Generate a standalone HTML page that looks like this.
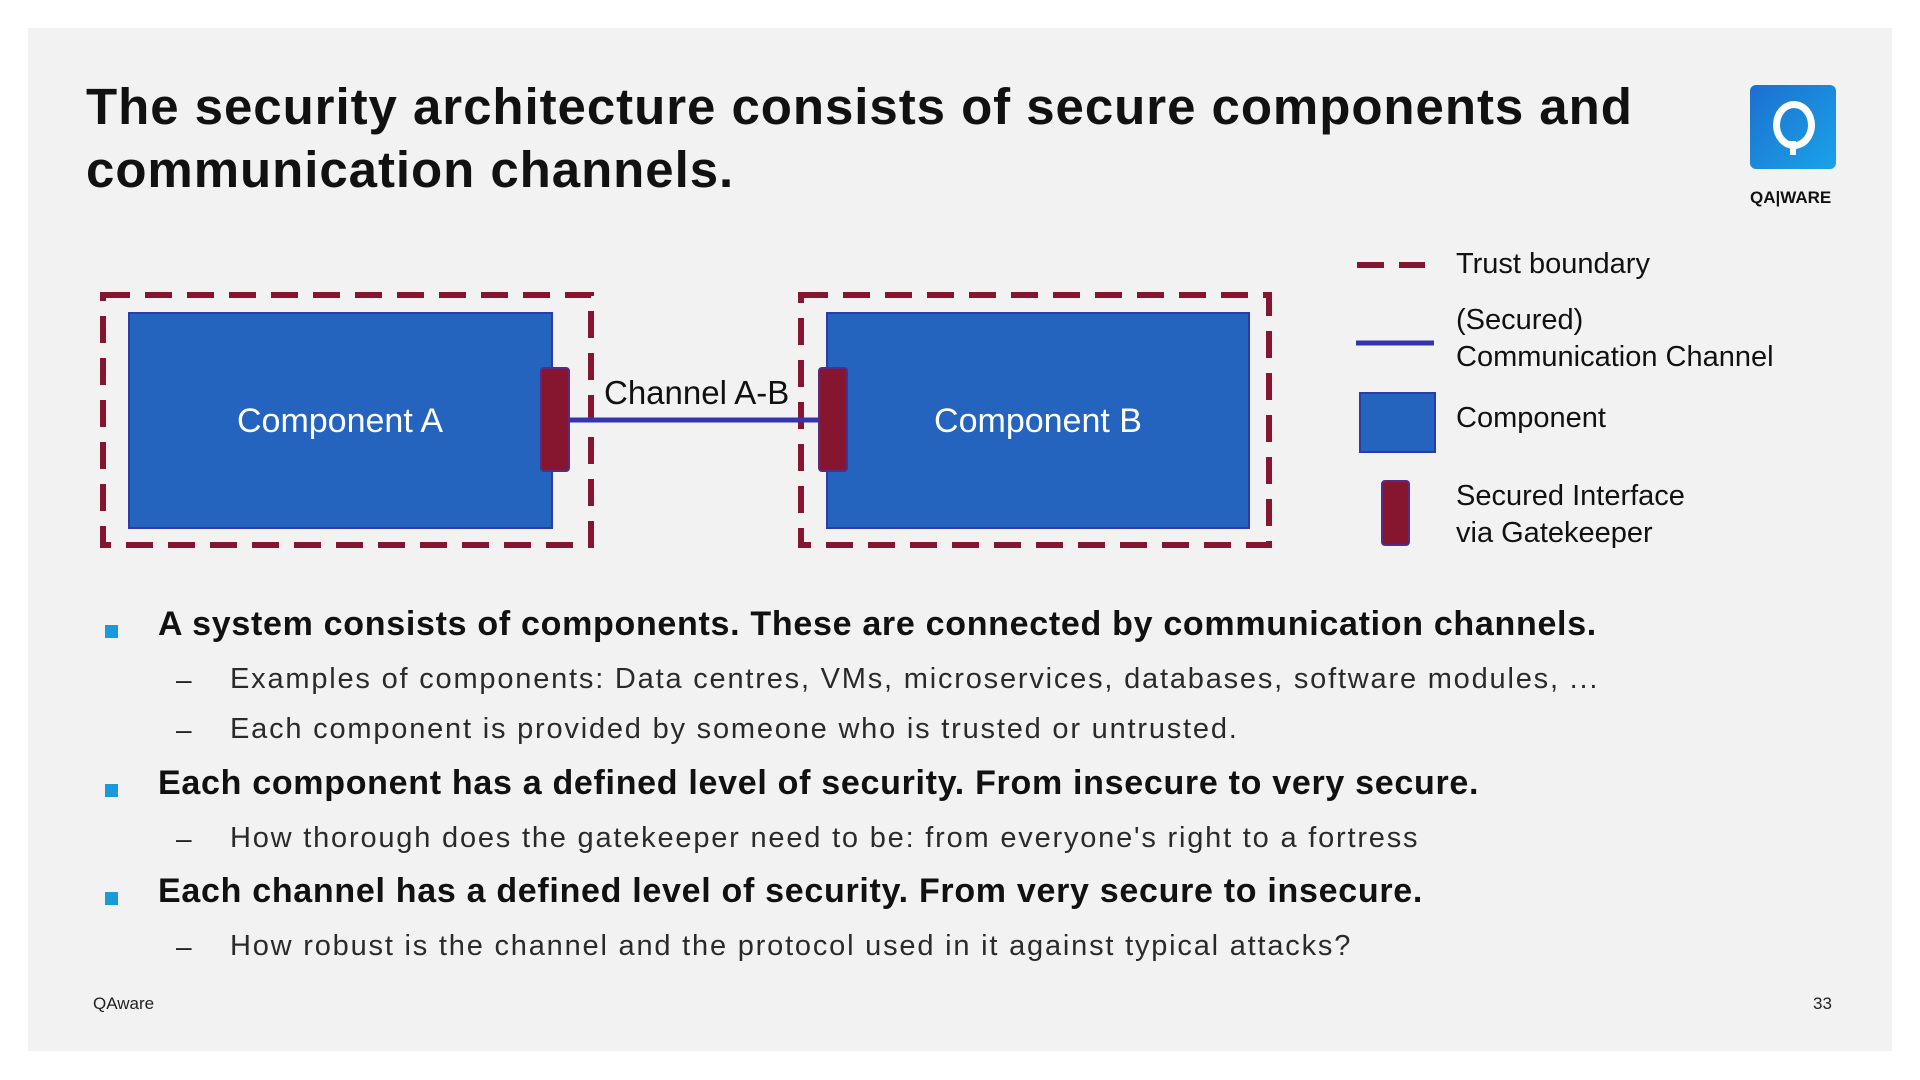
<!DOCTYPE html>
<html><head><meta charset="utf-8"><style>
body{margin:0;width:1920px;height:1080px;background:#fff;position:relative;overflow:hidden;font-family:"Liberation Sans",sans-serif;}
.slide{position:absolute;left:28px;top:28px;width:1864px;height:1023px;background:#f2f2f2;}
.t{position:absolute;white-space:nowrap;}
.title{left:86px;font-weight:bold;font-size:51px;letter-spacing:0.95px;color:#111;line-height:62px;}
.b{left:158px;font-weight:bold;font-size:34px;letter-spacing:0.7px;color:#111;}
.s{left:230px;font-size:29px;letter-spacing:1.8px;color:#2a2a2a;}
.d{left:176px;font-size:28px;color:#222;}
.sq{position:absolute;left:105px;width:13px;height:13px;background:#1a9ad6;}
.lg{left:1456px;font-size:29px;color:#111;line-height:37px;}
</style></head><body>
<div class="slide"></div>
<div class="t title" style="top:76px">The security architecture consists of secure components and</div>
<div class="t title" style="top:139px">communication channels.</div>
<div style="position:absolute;left:1750px;top:85px;width:86px;height:84px;border-radius:6px;background:linear-gradient(135deg,#1c6fd0,#1aa3e8);"></div>
<div style="position:absolute;left:1773px;top:101px;width:28px;height:34px;border:7px solid #fff;border-radius:50%;"></div>
<div style="position:absolute;left:1790px;top:141px;width:6px;height:14px;background:#fff;"></div>
<div class="t" style="left:1750px;top:188px;font-size:17px;font-weight:bold;color:#111;">QA|WARE</div>
<svg style="position:absolute;left:0;top:0" width="1920" height="1080">
<g fill="none" stroke="#861530" stroke-width="6" stroke-dasharray="27 15">
<rect x="103" y="295" width="488" height="250"/>
<rect x="801" y="295" width="468" height="250"/>
<line x1="1357" y1="265" x2="1425" y2="265"/>
</g>
<rect x="129" y="313" width="423" height="215" fill="#2463be" stroke="#2d3aa8" stroke-width="2"/>
<rect x="827" y="313" width="422" height="215" fill="#2463be" stroke="#2d3aa8" stroke-width="2"/>
<line x1="569" y1="420" x2="818" y2="420" stroke="#3434b0" stroke-width="5"/>
<rect x="541" y="368" width="28" height="103" rx="3" fill="#861530" stroke="#5a2a80" stroke-width="2"/>
<rect x="819" y="368" width="28" height="103" rx="3" fill="#861530" stroke="#5a2a80" stroke-width="2"/>
<line x1="1356" y1="343" x2="1434" y2="343" stroke="#3434b0" stroke-width="5"/>
<rect x="1360" y="393" width="75" height="59" fill="#2463be" stroke="#2d3aa8" stroke-width="2"/>
<rect x="1382" y="481" width="27" height="64" rx="3" fill="#861530" stroke="#5a2a80" stroke-width="2"/>
<text x="340" y="432" fill="#fff" font-size="34" text-anchor="middle" font-family="Liberation Sans">Component A</text>
<text x="1038" y="432" fill="#fff" font-size="34" text-anchor="middle" font-family="Liberation Sans">Component B</text>
<text x="604" y="404" fill="#111" font-size="33" font-family="Liberation Sans">Channel A-B</text>
</svg>
<div class="t lg" style="top:246px">Trust boundary</div>
<div class="t lg" style="top:302px">(Secured)<br>Communication Channel</div>
<div class="t lg" style="top:400px">Component</div>
<div class="t lg" style="top:478px">Secured Interface<br>via Gatekeeper</div>
<div class="sq" style="top:625px"></div>
<div class="t b" style="top:605px">A system consists of components. These are connected by communication channels.</div>
<div class="t d" style="top:664px">–</div><div class="t s" style="top:663px">Examples of components: Data centres, VMs, microservices, databases, software modules, ...</div>
<div class="t d" style="top:714px">–</div><div class="t s" style="top:713px">Each component is provided by someone who is trusted or untrusted.</div>
<div class="sq" style="top:784px"></div>
<div class="t b" style="top:764px">Each component has a defined level of security. From insecure to very secure.</div>
<div class="t d" style="top:823px">–</div><div class="t s" style="top:822px">How thorough does the gatekeeper need to be: from everyone's right to a fortress</div>
<div class="sq" style="top:892px"></div>
<div class="t b" style="top:872px">Each channel has a defined level of security. From very secure to insecure.</div>
<div class="t d" style="top:931px">–</div><div class="t s" style="top:930px">How robust is the channel and the protocol used in it against typical attacks?</div>
<div class="t" style="left:93px;top:994px;font-size:17px;color:#222;">QAware</div>
<div class="t" style="left:1813px;top:994px;font-size:17px;color:#222;">33</div>
</body></html>
